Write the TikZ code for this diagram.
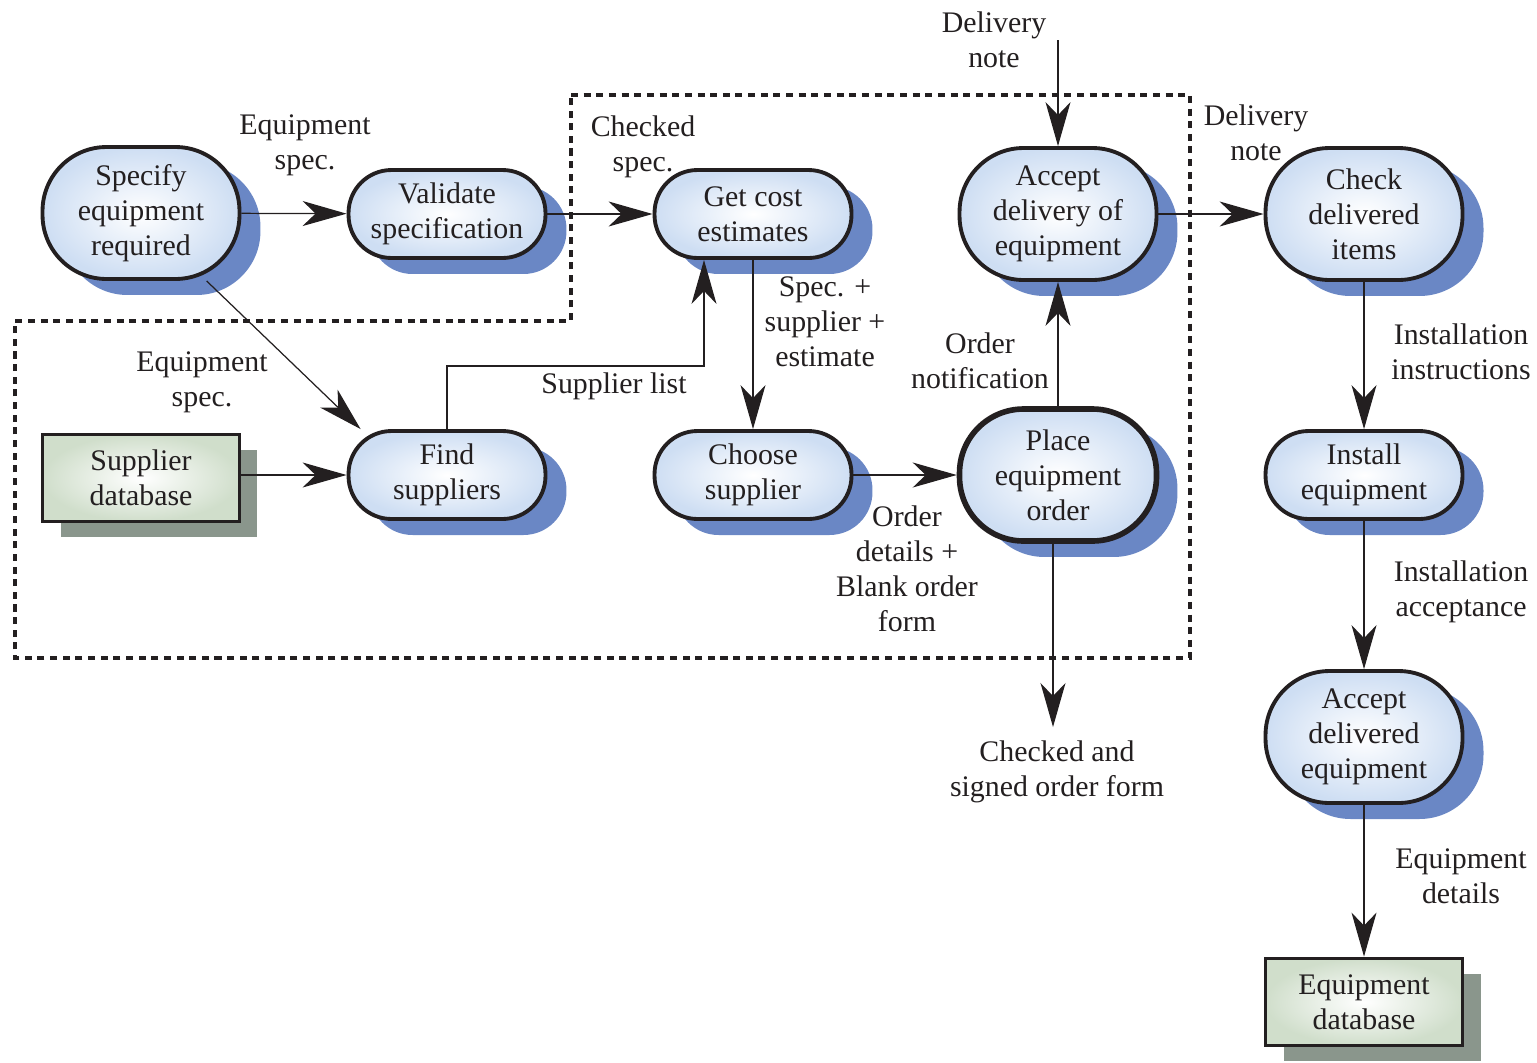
\documentclass[tikz,border=0pt]{standalone}
\usepackage{fontspec}
\setmainfont{Liberation Serif}
\usetikzlibrary{arrows.meta,shadows}

\definecolor{procfill}{RGB}{206,222,243}
\definecolor{procshade}{RGB}{106,135,197}
\definecolor{storefill}{RGB}{208,222,203}
\definecolor{storeshade}{RGB}{138,150,140}
\definecolor{ink}{RGB}{35,31,32}

\tikzset{%
	every node/.style={font=\fontsize{17}{20}\selectfont, text=ink},%
	proc/.style={draw=ink, line width=2.2pt, rounded corners=0.86cm,%
		minimum width=3.94cm, minimum height=1.76cm, inner sep=0pt, align=center,%
		shading=radial, inner color=white, outer color=procfill},%
	procshadow/.style={drop shadow={shadow xshift=0.42cm, shadow yshift=-0.32cm,%
		fill=procshade, opacity=1}},%
	proctall/.style={proc, rounded corners=1.28cm, minimum height=2.64cm},%
	store/.style={draw=ink, line width=2.2pt, rectangle,%
		minimum width=3.94cm, minimum height=1.74cm, inner sep=0pt, align=center,%
		shading=radial, inner color=white, outer color=storefill,%
		drop shadow={shadow xshift=0.36cm, shadow yshift=-0.3cm, fill=storeshade, opacity=1}},%
	flow/.style={-{Stealth[length=0.88cm, width=0.5cm, inset=0.26cm]}, line width=0.7pt, draw=ink},%
	lbl/.style={align=center, inner sep=0pt},%
	bound/.style={line width=2pt, dash pattern=on 4pt off 3.2pt, draw=ink}%
}

\begin{document}
\begin{tikzpicture}[x=0.02cm, y=-0.02cm] % 1 unit = 1 px
\useasboundingbox (0,0) rectangle (1537,1062);

% system boundary
\path[bound] (571,95) -- (1190,95) -- (1190,658) -- (15,658) -- (15,321) -- (571,321) -- cycle;

% processes
\node[proctall, procshadow] (spec)  at (141,213)  {Specify\\equipment\\required};
\node[proc, procshadow]     (valid) at (447,214)  {Validate\\specification};
\node[proc, procshadow]     (cost)  at (753,214)  {Get cost\\estimates};
\node[proctall, procshadow] (accd)  at (1058,214) {Accept\\delivery of\\equipment};
\node[proctall, procshadow] (check) at (1364,214) {Check\\delivered\\items};
\node[proc, procshadow]     (find)  at (447,475)  {Find\\suppliers};
\node[proc, procshadow]     (choose) at (753,475) {Choose\\supplier};
\node[proctall, procshadow, line width=3.2pt] (place) at (1058,475) {Place\\equipment\\order};
\node[proc, procshadow]     (inst)  at (1364,475) {Install\\equipment};
\node[proctall, procshadow] (accq)  at (1364,737) {Accept\\delivered\\equipment};

% stores
\node[store] (supdb) at (141,478)  {Supplier\\database};
\node[store] (eqdb)  at (1364,1002) {Equipment\\database};

% labels
\node[lbl] (l1)  at (305,145)  {Equipment\\spec.};
\node[lbl] (l2)  at (643,147)  {Checked\\spec.};
\node[lbl] (l3)  at (994,40)   {Delivery\\note};
\node[lbl] (l4)  at (1256,133) {Delivery\\note};
\node[lbl] (l5)  at (202,382)  {Equipment\\spec.};
\node[lbl] (l6)  at (614,386)  {Supplier list};
\node[lbl] (l7)  at (825,322)  {Spec. +\\supplier +\\estimate};
\node[lbl] (l8)  at (980,361)  {Order\\notification};
\node[lbl] (l9)  at (907,569)  {Order\\details +\\Blank order\\form};
\node[lbl] (l10) at (1461,352) {Installation\\instructions};
\node[lbl] (l11) at (1461,592) {Installation\\acceptance};
\node[lbl] (l12) at (1461,876) {Equipment\\details};
\node[lbl] (cso) at (1057,772) {Checked and\\signed order form};

\coordinate (dn)  at (1058,40);
\coordinate (sl)  at (704,366);
\coordinate (ord) at (1053,727);

% flows
\draw[flow] (spec) -- (valid);
\draw[flow] (valid) -- (cost);
\draw[flow] (spec.-46) -- (find.152);
\draw[flow] (supdb.east |- find.west) -- (find.west);
\draw[flow] (find.north) |- (sl) -- (sl |- cost.south);
\draw[flow] (cost.south) -- (choose.north);
\draw[flow] (choose) -- (place);
\draw[flow] (place.north) -- (accd.south);
\draw[flow] (dn) -- (accd.north);
\draw[flow] (accd) -- (check);
\draw[flow] (ord |- place.south) -- (ord);
\foreach \s/\t in {check/inst, inst/accq, accq/eqdb}%
{%
	\draw[flow] (\s.south) -- (\t.north);
}%
\end{tikzpicture}
\end{document}
